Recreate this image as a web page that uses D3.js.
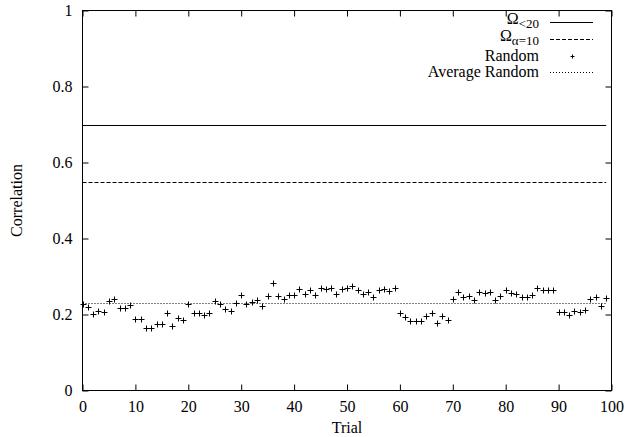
<!DOCTYPE html>
<html>
<head>
<meta charset="utf-8">
<script src="https://cdn.jsdelivr.net/npm/d3@7"></script>
<style>
  body { margin: 0; background: #fff; }
  svg text { font-family: "Liberation Serif"; }
</style>
</head>
<body>
<svg id="chart" width="627" height="437"></svg>
<script>
// Values
const trials = d3.range(0, 100);
const randomCorr = [
  0.228, 0.220, 0.202, 0.209, 0.207, 0.236, 0.242, 0.218, 0.218, 0.225,
  0.189, 0.189, 0.164, 0.165, 0.176, 0.176, 0.205, 0.171, 0.191, 0.186,
  0.228, 0.205, 0.205, 0.200, 0.205, 0.236, 0.228, 0.215, 0.209, 0.230,
  0.252, 0.227, 0.234, 0.239, 0.222, 0.248, 0.283, 0.250, 0.241, 0.252,
  0.252, 0.266, 0.253, 0.264, 0.252, 0.270, 0.266, 0.269, 0.253, 0.266,
  0.270, 0.276, 0.265, 0.255, 0.260, 0.245, 0.264, 0.266, 0.262, 0.271,
  0.205, 0.193, 0.184, 0.184, 0.184, 0.197, 0.205, 0.177, 0.195, 0.186,
  0.242, 0.259, 0.246, 0.250, 0.238, 0.259, 0.257, 0.260, 0.238, 0.248,
  0.265, 0.257, 0.253, 0.245, 0.245, 0.251, 0.271, 0.264, 0.264, 0.265,
  0.207, 0.207, 0.200, 0.208, 0.207, 0.212, 0.241, 0.246, 0.222, 0.243
];
const omegaLt20 = 0.70;
const omegaAlpha10 = 0.55;
const averageRandom = 0.229;
const xTicks = d3.range(0, 101, 10);
const yTicks = [0, 0.2, 0.4, 0.6, 0.8, 1];

const serif = "Liberation Serif";
const fontSize = 16;

const svg = d3.select("#chart");
const margin = { left: 82.5, right: 15.5, top: 10.5, bottom: 46.5 };
const width = 627 - margin.left - margin.right;
const height = 437 - margin.top - margin.bottom;

const x = d3.scaleLinear().domain([0, 100]).range([margin.left, margin.left + width]);
const y = d3.scaleLinear().domain([0, 1]).range([margin.top + height, margin.top]);

const tickLen = 6;

// axes with inward ticks on all four sides
svg.append("g").attr("transform", `translate(0,${y(0)})`)
  .call(d3.axisBottom(x).tickValues(xTicks).tickSize(-tickLen).tickPadding(10).tickFormat(d3.format("d")));
svg.append("g").attr("transform", `translate(0,${y(1)})`)
  .call(d3.axisTop(x).tickValues(xTicks).tickSize(-tickLen).tickFormat(""));
svg.append("g").attr("transform", `translate(${x(0)},0)`)
  .call(d3.axisLeft(y).tickValues(yTicks).tickSize(-tickLen).tickPadding(10).tickFormat(d => d));
svg.append("g").attr("transform", `translate(${x(100)},0)`)
  .call(d3.axisRight(y).tickValues(yTicks).tickSize(-tickLen).tickFormat(""));

svg.selectAll("g").attr("font-family", serif).attr("font-size", fontSize);
svg.selectAll(".domain").remove();
svg.selectAll(".tick line").attr("stroke", "#000").attr("stroke-width", 1);

// frame
svg.append("rect")
  .attr("x", x(0)).attr("y", y(1))
  .attr("width", x(100) - x(0)).attr("height", y(0) - y(1))
  .attr("fill", "none").attr("stroke", "#000").attr("stroke-width", 1);

// axis titles
svg.append("text")
  .attr("x", (x(0) + x(100)) / 2).attr("y", 433)
  .attr("text-anchor", "middle")
  .text("Trial");
svg.append("text")
  .attr("transform", `translate(22,${(y(0) + y(1)) / 2}) rotate(-90)`)
  .attr("text-anchor", "middle")
  .text("Correlation");

// horizontal reference lines
const hline = (val, dash) => svg.append("line")
  .attr("x1", x(trials[0])).attr("x2", x(trials[trials.length - 1]))
  .attr("y1", Math.round(y(val)) + 0.5).attr("y2", Math.round(y(val)) + 0.5)
  .attr("stroke", "#000").attr("stroke-width", 1)
  .attr("stroke-dasharray", dash);

hline(omegaLt20, null);
hline(omegaAlpha10, "4,2");
hline(averageRandom, "1,2");

// random points as plus marks
const arm = 3;
const pts = svg.append("g");
trials.forEach((t, i) => {
  const cx = Math.round(x(t)) + 0.5, cy = Math.round(y(randomCorr[i])) + 0.5;
  pts.append("path")
    .attr("d", `M${cx - arm},${cy}H${cx + arm}M${cx},${cy - arm}V${cy + arm}`)
    .attr("stroke", "#000").attr("stroke-width", 1).attr("fill", "none");
});

// legend
const legend = [
  { label: "Ω", sub: "<20", type: "line", dash: null, y: 22 },
  { label: "Ω", sub: "α=10", type: "line", dash: "4,2", y: 39 },
  { label: "Random", sub: null, type: "point", y: 56 },
  { label: "Average Random", sub: null, type: "line", dash: "1,2", y: 72 }
];
const textRight = 539, lineX1 = 550, lineX2 = 593;
legend.forEach(d => {
  const t = svg.append("text")
    .attr("x", textRight).attr("y", d.sub ? d.y + 2 : d.y + 5)
    .attr("text-anchor", "end");
  t.append("tspan").text(d.label);
  if (d.sub) t.append("tspan").attr("dy", 4).attr("font-size", 13).text(d.sub);
  if (d.type === "line") {
    svg.append("line")
      .attr("x1", lineX1).attr("x2", lineX2)
      .attr("y1", d.y + 0.5).attr("y2", d.y + 0.5)
      .attr("stroke", "#000").attr("stroke-width", 1)
      .attr("stroke-dasharray", d.dash);
  } else {
    const cx = Math.round((lineX1 + lineX2) / 2) + 0.5, cy = d.y + 0.5;
    svg.append("path")
      .attr("d", `M${cx - 2},${cy}H${cx + 2}M${cx},${cy - 2}V${cy + 2}`)
      .attr("stroke", "#000").attr("stroke-width", 1);
  }
});

svg.selectAll("text")
  .attr("font-family", serif)
  .attr("font-size", fontSize)
  .attr("fill", "#000");
</script>
</body>
</html>
